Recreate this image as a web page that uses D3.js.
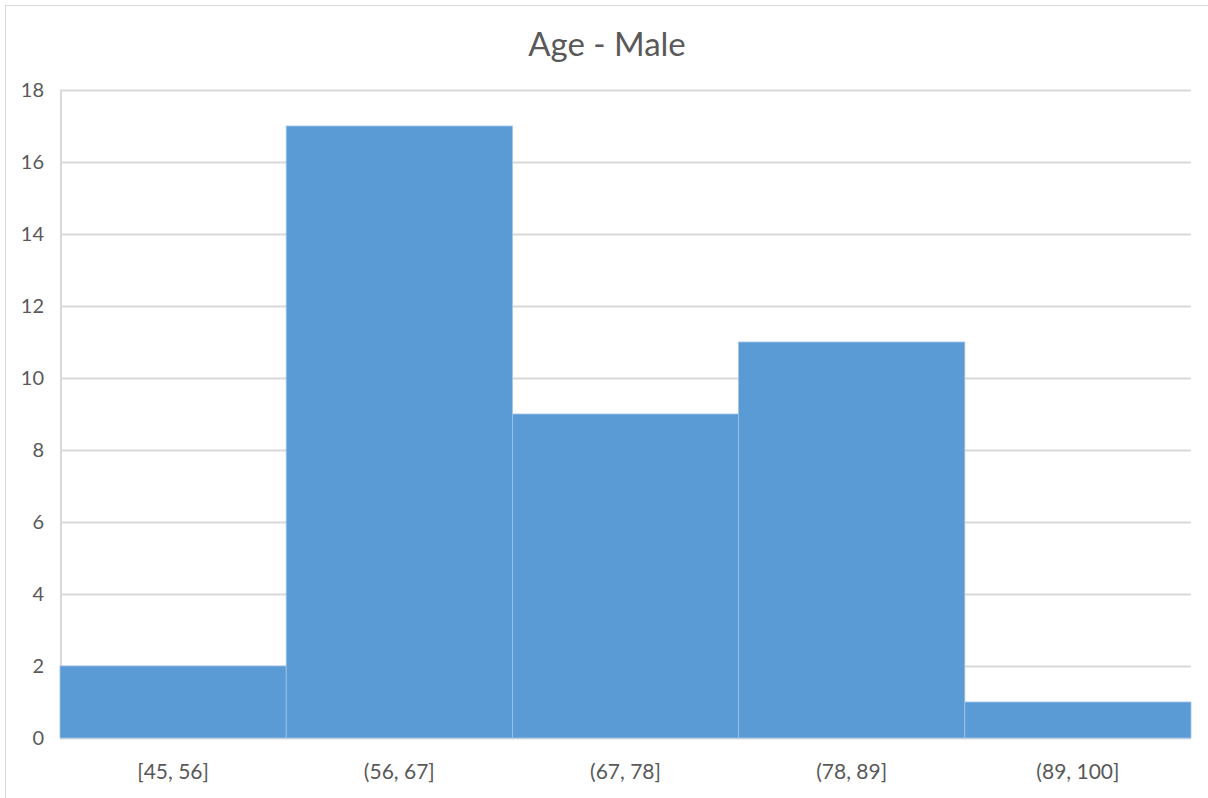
<!DOCTYPE html>
<html>
<head>
<meta charset="utf-8">
<script src="https://cdn.jsdelivr.net/npm/d3@7"></script>
<style>
  html, body { margin: 0; padding: 0; background: #fff; }
  svg { display: block; }
</style>
</head>
<body>
<div id="chart"></div>
<script>
const title = "Age - Male";
const bins = ["[45, 56]", "(56, 67]", "(67, 78]", "(78, 89]", "(89, 100]"];
const counts = [2, 17, 9, 11, 1];
const yTicks = [0, 2, 4, 6, 8, 10, 12, 14, 16, 18];

const width = 1208;
const height = 798;
const barFill = "#5b9bd5";
const gridColor = "#d9d9d9";
const textColor = "#595959";
const fontFamily = "Lato, 'Open Sans', sans-serif";

const margin = { top: 90, right: 17, bottom: 60, left: 60 };

const svg = d3.select("#chart")
    .append("svg")
    .attr("width", width)
    .attr("height", height);

// chart area border (only top and left show in the shot)
svg.append("rect")
    .attr("x", 5.5)
    .attr("y", 5.5)
    .attr("width", width + 10)
    .attr("height", height + 10)
    .attr("fill", "#fff")
    .attr("stroke", gridColor);

const x = d3.scaleBand()
    .domain(bins)
    .range([margin.left, width - margin.right])
    .padding(0);

const y = d3.scaleLinear()
    .domain([0, 18])
    .range([height - margin.bottom, margin.top]);

// gridlines
svg.append("g")
    .selectAll("line")
    .data(yTicks)
    .enter()
    .append("line")
    .attr("x1", margin.left)
    .attr("x2", width - margin.right)
    .attr("y1", d => Math.round(y(d)) + 0.5)
    .attr("y2", d => Math.round(y(d)) + 0.5)
    .style("stroke", gridColor)
    .style("stroke-width", 2);

// left axis line
svg.append("line")
    .attr("x1", margin.left + 1)
    .attr("x2", margin.left + 1)
    .attr("y1", y(18))
    .attr("y2", y(0))
    .style("stroke", gridColor)
    .style("stroke-width", 2);

// bars
svg.append("g")
    .selectAll("rect")
    .data(counts)
    .enter()
    .append("rect")
    .attr("x", (d, i) => x(bins[i]))
    .attr("y", d => y(d))
    .attr("width", x.bandwidth())
    .attr("height", d => y(0) - y(d))
    .attr("fill", barFill)
    .attr("stroke", "#9dc3e6")
    .attr("stroke-width", 0.8);

// y tick labels
svg.append("g")
    .selectAll("text")
    .data(yTicks)
    .enter()
    .append("text")
    .attr("x", 44)
    .attr("y", d => y(d) + 7)
    .attr("text-anchor", "end")
    .text(d => d)
    .call(textAttr, textColor, fontFamily, "20px");

// x labels
svg.append("g")
    .selectAll("text")
    .data(bins)
    .enter()
    .append("text")
    .attr("x", d => x(d) + x.bandwidth() / 2)
    .attr("y", 779)
    .attr("text-anchor", "middle")
    .text(d => d)
    .call(textAttr, textColor, fontFamily, "21px");

// title
svg.append("text")
    .attr("x", 607)
    .attr("y", 56)
    .attr("text-anchor", "middle")
    .text(title)
    .call(textAttr, textColor, fontFamily, "33px");

function textAttr(selection, fill, family, size) {
    selection
        .attr("fill", fill)
        .attr("font-family", family)
        .attr("font-size", size);
}
</script>
</body>
</html>
